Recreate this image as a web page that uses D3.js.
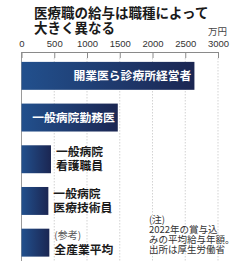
<!DOCTYPE html>
<html>
<head>
<meta charset="utf-8">
<script src="https://cdn.jsdelivr.net/npm/d3@7"></script>
<style>
  body { margin: 0; background: #fff; }
  svg { display: block; }
</style>
</head>
<body>
<svg id="chart"></svg>
<script>
const titleLines = ['医療職の給与は職種によって', '大きく異なる'];
const categories = ['開業医ら診療所経営者', '一般病院勤務医', '一般病院看護職員', '一般病院医療技術員', '全産業平均'];
const values = [2640, 1470, 450, 410, 425];
// label lines for each bar; inside = drawn in white inside the bar
const labelLines = [['開業医ら診療所経営者'], ['一般病院勤務医'], ['一般病院', '看護職員'], ['一般病院', '医療技術員'], ['(参考)', '全産業平均']];
const labelInside = [true, true, false, false, false];
const tickValues = [0, 500, 1000, 1500, 2000, 2500, 3000];
const unit = '万円';
const noteLines = ['(注)', '2022年の賞与込', 'みの平均給与年額。', '出所は厚生労働省'];

const width = 240;
const height = 270;
const jp = '"Noto Sans CJK JP", "Noto Sans", sans-serif';

const svg = d3.select('#chart')
  .attr('width', width)
  .attr('height', height)
  .attr('viewBox', [0, 0, width, height]);

const x = d3.scaleLinear()
  .domain([0, 3000])
  .range([21.5, 218]);

const y = d3.scaleBand()
  .domain(categories)
  .range([55, 263.5])
  .paddingInner(0.33)
  .paddingOuter(0.165);

const grad = svg.append('defs').append('linearGradient')
  .attr('id', 'barGrad')
  .attr('x1', 0).attr('x2', 1).attr('y1', 0).attr('y2', 0);
grad.append('stop').attr('offset', '0%').attr('stop-color', '#22508d');
grad.append('stop').attr('offset', '100%').attr('stop-color', '#1b2652');

// title
svg.append('g')
  .attr('font-family', jp)
  .attr('font-size', 13.5)
  .attr('font-weight', 700)
  .attr('fill', '#1a1a1a')
  .selectAll('text')
  .data(titleLines)
  .join('text')
  .attr('x', 34)
  .attr('y', (d, i) => 13.3 + i * 14.8)
  .attr('dy', '0.35em')
  .text(d => d);

// grid
svg.append('g')
  .selectAll('line')
  .data(tickValues.slice(1))
  .join('line')
  .attr('x1', d => x(d)).attr('x2', d => x(d))
  .attr('y1', 58).attr('y2', 261)
  .attr('stroke', '#c8c8c8')
  .attr('stroke-width', 0.8)
  .attr('stroke-dasharray', '1.5,1.5');

svg.append('line')
  .attr('x1', x(0)).attr('x2', x(0))
  .attr('y1', 52).attr('y2', 261)
  .attr('stroke', '#9a9a9a')
  .attr('stroke-width', 1);

// axis
const xAxis = g => g
  .attr('transform', 'translate(0,52)')
  .call(d3.axisBottom(x).tickValues(tickValues).tickSize(6).tickSizeOuter(0).tickFormat(d3.format('d')))
  .call(g => g.selectAll('.domain').attr('stroke', '#8a8a8a'))
  .call(g => g.selectAll('.tick line').attr('stroke', '#8a8a8a'))
  .call(g => g.selectAll('.tick text')
    .attr('y', -5)
    .attr('dy', 0)
    .attr('fill', '#333')
    .attr('font-family', '"Liberation Sans", Arial, sans-serif')
    .attr('font-size', 9.5));

svg.append('g').call(xAxis);

svg.append('text')
  .attr('x', 227)
  .attr('y', 32)
  .attr('dy', '0.35em')
  .attr('text-anchor', 'end')
  .attr('font-family', jp)
  .attr('font-size', 9.5)
  .attr('fill', '#444')
  .text(unit);

// bars
svg.append('g')
  .selectAll('rect')
  .data(values)
  .join('rect')
  .attr('x', x(0))
  .attr('y', (d, i) => y(categories[i]))
  .attr('width', d => x(d) - x(0))
  .attr('height', y.bandwidth())
  .attr('fill', 'url(#barGrad)');

// labels
const labels = svg.append('g')
  .attr('font-family', jp)
  .selectAll('g')
  .data(categories)
  .join('g');

labels.each(function (c, i) {
  const g = d3.select(this);
  const lines = labelLines[i];
  const cy = y(c) + y.bandwidth() / 2;
  if (labelInside[i]) {
    g.append('text')
      .attr('x', x(values[i]) - 3)
      .attr('y', cy)
      .attr('dy', '0.35em')
      .attr('text-anchor', 'end')
      .attr('font-size', 11.8)
      .attr('font-weight', 700)
      .attr('fill', '#fff')
      .text(lines[0]);
  } else {
    g.selectAll('text')
      .data(lines)
      .join('text')
      .attr('x', x(values[i]) + 5)
      .attr('y', (d, j) => cy + (j - (lines.length - 1) / 2) * 14)
      .attr('dy', '0.35em')
      .attr('font-size', d => d.startsWith('(') ? 10 : 11.8)
      .attr('font-weight', d => d.startsWith('(') ? 400 : 700)
      .attr('fill', d => d.startsWith('(') ? '#555' : '#1a1a1a')
      .text(d => d);
  }
});

// note
svg.append('g')
  .attr('font-family', jp)
  .attr('font-size', 9.5)
  .attr('fill', '#333')
  .selectAll('text')
  .data(noteLines)
  .join('text')
  .attr('x', 149)
  .attr('y', (d, i) => 220 + i * 9.8)
  .attr('dy', '0.35em')
  .text(d => d);
</script>
</body>
</html>
